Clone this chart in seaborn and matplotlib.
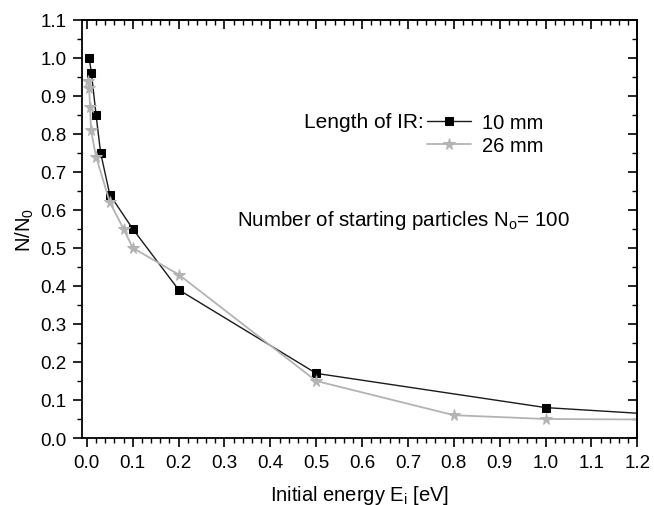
import matplotlib
matplotlib.use("Agg")
import matplotlib.pyplot as plt
import seaborn as sns
import numpy as np
import pandas as pd
from matplotlib.ticker import MultipleLocator, FormatStrFormatter

# ---- data ----
energy_10 = [0.005, 0.01, 0.02, 0.03, 0.05, 0.1, 0.2, 0.5, 1.0, 1.5]
ratio_10 = [1.00, 0.96, 0.85, 0.75, 0.64, 0.55, 0.39, 0.17, 0.08, 0.043]
energy_26 = [0.003, 0.005, 0.007, 0.009, 0.02, 0.05, 0.08, 0.1, 0.2, 0.5, 0.8, 1.0, 1.5]
ratio_26 = [0.94, 0.92, 0.87, 0.81, 0.74, 0.62, 0.55, 0.50, 0.43, 0.15, 0.06, 0.05, 0.047]
series_labels = ["10 mm", "26 mm"]
x_ticks = [0.0, 0.1, 0.2, 0.3, 0.4, 0.5, 0.6, 0.7, 0.8, 0.9, 1.0, 1.1, 1.2]
y_ticks = [0.0, 0.1, 0.2, 0.3, 0.4, 0.5, 0.6, 0.7, 0.8, 0.9, 1.0, 1.1]

df10 = pd.DataFrame({"E": energy_10, "N": ratio_10})
df26 = pd.DataFrame({"E": energy_26, "N": ratio_26})

sns.set_theme(style="ticks")
plt.rcParams["font.family"] = ["Liberation Sans", "DejaVu Sans"]
plt.rcParams["mathtext.fontset"] = "custom"
plt.rcParams["mathtext.rm"] = "Liberation Sans"
plt.rcParams["mathtext.it"] = "Liberation Sans:italic"
plt.rcParams["text.color"] = "black"
plt.rcParams["axes.labelcolor"] = "black"
plt.rcParams["xtick.color"] = "black"
plt.rcParams["ytick.color"] = "black"

fig = plt.figure(figsize=(6.54, 5.06), dpi=100)
ax = fig.add_axes([0.1258, 0.1324, 0.8487, 0.8266])

gray = "#b3b3b3"
sns.lineplot(data=df10, x="E", y="N", ax=ax, color="#1a1a1a", linewidth=1.0,
             marker="s", markersize=6.2, markerfacecolor="black",
             markeredgecolor="black", sort=False, label=series_labels[0])
sns.lineplot(data=df26, x="E", y="N", ax=ax, color=gray, linewidth=1.3,
             marker="*", markersize=8.5, markerfacecolor=gray,
             markeredgecolor=gray, sort=False, label=series_labels[1])

ax.set_xlim(-0.01, 1.2)
ax.set_ylim(0.0, 1.1)
ax.set_xticks(x_ticks)
ax.set_yticks(y_ticks)
ax.xaxis.set_major_formatter(FormatStrFormatter("%.1f"))
ax.yaxis.set_major_formatter(FormatStrFormatter("%.1f"))
ax.xaxis.set_minor_locator(MultipleLocator(0.02))
ax.yaxis.set_minor_locator(MultipleLocator(0.05))

for s in ax.spines.values():
    s.set_linewidth(1.3)
    s.set_color("black")

ax.tick_params(which="major", direction="out", length=6.5, width=1.2,
               labelsize=13.5, colors="black", pad=5)
ax.tick_params(which="minor", direction="out", length=3.6, width=1.0, colors="black")

# top / right mirrored ticks pointing inward
secx = ax.secondary_xaxis("top")
secx.set_xticks(x_ticks)
secx.xaxis.set_minor_locator(MultipleLocator(0.02))
secx.tick_params(which="major", direction="in", length=6.5, width=1.2, labeltop=False)
secx.tick_params(which="minor", direction="in", length=3.6, width=1.0)
secx.spines["top"].set_linewidth(1.3)
secy = ax.secondary_yaxis("right")
secy.set_yticks(y_ticks)
secy.yaxis.set_minor_locator(MultipleLocator(0.05))
secy.tick_params(which="major", direction="in", length=6.5, width=1.2, labelright=False)
secy.tick_params(which="minor", direction="in", length=3.6, width=1.0)
secy.spines["right"].set_linewidth(1.3)

ax.set_xlabel(r"Initial energy E$_\mathrm{i}$ [eV]", fontsize=14.5, labelpad=9)
ax.set_ylabel(r"N/N$_\mathrm{0}$", fontsize=14.5, labelpad=3)

leg = ax.legend(loc="center left", bbox_to_anchor=(0.621, 0.7277), frameon=False,
                fontsize=14.5, handlelength=2.2, handletextpad=0.55,
                labelspacing=0.2, borderpad=0, borderaxespad=0)
for t in leg.get_texts():
    t.set_color("black")

ax.text(0.6157, 0.756, "Length of IR:", transform=ax.transAxes, fontsize=15,
        ha="right", va="center")
ax.text(0.2787, 0.522, r"Number of starting particles N$_\mathrm{o}$= 100",
        transform=ax.transAxes, fontsize=14.8, ha="left", va="center")

fig.savefig("out.png", dpi=100)
